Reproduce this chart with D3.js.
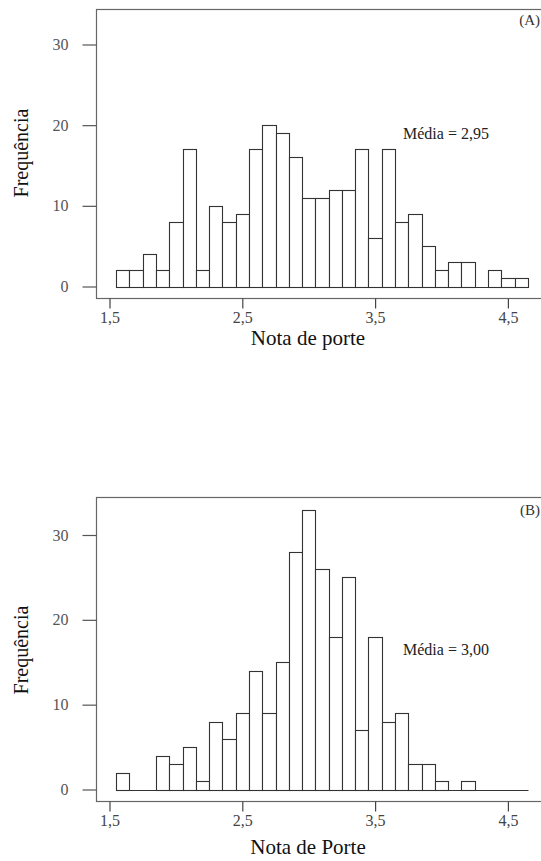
<!DOCTYPE html>
<html>
<head>
<meta charset="utf-8">
<script src="https://cdn.jsdelivr.net/npm/d3@7/dist/d3.min.js"></script>
<style>
  html, body { margin: 0; padding: 0; background: #fff; }
  svg { display: block; }
</style>
</head>
<body>
<svg id="chart" width="541" height="861"></svg>
<script>
// ---- data ----
const binLower = [1.55,1.65,1.75,1.85,1.95,2.05,2.15,2.25,2.35,2.45,2.55,2.65,2.75,2.85,2.95,3.05,
                  3.15,3.25,3.35,3.45,3.55,3.65,3.75,3.85,3.95,4.05,4.15,4.25,4.35,4.45,4.55];
const binWidth = 0.1;
const countsA = [2,2,4,2,8,17,2,10,8,9,17,20,19,16,11,11,12,12,17,6,17,8,9,5,2,3,3,0,2,1,1];
const countsB = [2,0,0,4,3,5,1,8,6,9,14,9,15,28,33,26,18,25,7,18,8,9,3,3,1,0,1,0,0,0,0];
const xTicks = [1.5, 2.5, 3.5, 4.5];
const xTickLabels = ["1,5", "2,5", "3,5", "4,5"];
const yTicks = [0, 10, 20, 30];
const panelLabels = ["(A)", "(B)"];
const meanLabels = ["Média = 2,95", "Média = 3,00"];
const xTitles = ["Nota de porte", "Nota de Porte"];
const yTitle = "Frequência";

const FONT = "'Liberation Serif', 'Times New Roman', Times, 'DejaVu Serif', serif";
const probe = document.createElement("canvas").getContext("2d");
function fontWorks(name) {
  probe.font = "40px monospace"; const a = probe.measureText("Média Nota de porte 0123").width;
  probe.font = "40px '" + name + "', monospace"; const b = probe.measureText("Média Nota de porte 0123").width;
  return Math.abs(a - b) > 0.5;
}
const family = ["Liberation Serif", "Tinos", "Times New Roman", "Nimbus Roman", "DejaVu Serif"].find(fontWorks) || "serif";
const FAM = "'" + family + "', serif";

// ---- layout ----
const svg = d3.select("#chart").attr("font-family", FAM).style("font-family", FAM);
const panels = [
  { counts: countsA, top: 9.5, bottom: 298.5, y0: 286.5, y30: 44.5, tickLab: 323, title: 345, yTitleY: 153, meanY: 139, tagY: 25 },
  { counts: countsB, top: 497.5, bottom: 801.5, y0: 789.5, y30: 535, tickLab: 826, title: 854, yTitleY: 650, meanY: 655, tagY: 515 }
];
const left = 96.5, right = 542;
const x = d3.scaleLinear().domain([1.5, 4.5]).range([109.5, 507.9]);

panels.forEach((p, i) => {
  const g = svg.append("g");
  const y = d3.scaleLinear().domain([0, 30]).range([p.y0, p.y30]);

  g.append("rect")
    .attr("x", left).attr("y", p.top)
    .attr("width", right - left).attr("height", p.bottom - p.top)
    .attr("fill", "none").attr("stroke", "#666").attr("stroke-width", 1.2);

  const yAxis = d3.axisLeft(y).tickValues(yTicks).tickSize(14).tickPadding(14)
    .tickFormat(d3.format("d"));
  const ya = g.append("g").attr("transform", `translate(${left},0)`).call(yAxis);
  ya.attr("font-family", FAM).attr("font-size", 16);
  ya.select(".domain").remove();
  ya.selectAll("line").attr("stroke", "#555").attr("stroke-width", 1.2);
  ya.selectAll("text").attr("fill", "#555");

  const xAxis = d3.axisBottom(x).tickValues(xTicks).tickSize(10).tickPadding(4)
    .tickFormat((d, j) => xTickLabels[j]);
  const xa = g.append("g").attr("transform", `translate(0,${p.bottom})`).call(xAxis);
  xa.attr("font-family", FAM).attr("font-size", 16);
  xa.select(".domain").remove();
  xa.selectAll("line").attr("stroke", "#444").attr("stroke-width", 1.2);
  xa.selectAll(".tick text").attr("fill", "#444").attr("dy", null)
    .attr("y", p.tickLab - p.bottom);

  g.append("g").selectAll("rect")
    .data(binLower.map((lo, j) => ({ lo, v: p.counts[j] })).filter(d => d.v > 0))
    .join("rect")
    .attr("x", d => Math.round(x(d.lo)) + 0.5)
    .attr("width", d => Math.round(x(d.lo + binWidth)) - Math.round(x(d.lo)))
    .attr("y", d => Math.round(y(d.v)) + 0.5)
    .attr("height", d => Math.round(y(0)) - Math.round(y(d.v)))
    .attr("fill", "#fff").attr("stroke", "#333").attr("stroke-width", 1.1);

  g.append("line")
    .attr("x1", Math.round(x(binLower[0])) + 0.5)
    .attr("x2", Math.round(x(binLower[binLower.length - 1] + binWidth)) + 0.5)
    .attr("y1", Math.round(y(0)) + 0.5).attr("y2", Math.round(y(0)) + 0.5)
    .attr("stroke", "#333").attr("stroke-width", 1.1);

  g.append("text").attr("x", 308).attr("y", p.title).attr("text-anchor", "middle")
    .attr("font-family", FAM).attr("font-size", 21)
    .attr("fill", "#111").text(xTitles[i]);
  g.append("text")
    .attr("transform", `translate(28,${p.yTitleY}) rotate(-90)`)
    .attr("text-anchor", "middle").attr("fill", "#111")
    .attr("font-family", FAM).attr("font-size", 20)
    .text(yTitle);

  g.append("text").attr("x", 403).attr("y", p.meanY).attr("fill", "#222")
    .attr("font-family", FAM).attr("font-size", 16).text(meanLabels[i]);
  g.append("text").attr("x", 540).attr("y", p.tagY).attr("text-anchor", "end")
    .attr("font-family", FAM).attr("font-size", 15)
    .attr("fill", "#333").text(panelLabels[i]);
});
</script>
</body>
</html>
